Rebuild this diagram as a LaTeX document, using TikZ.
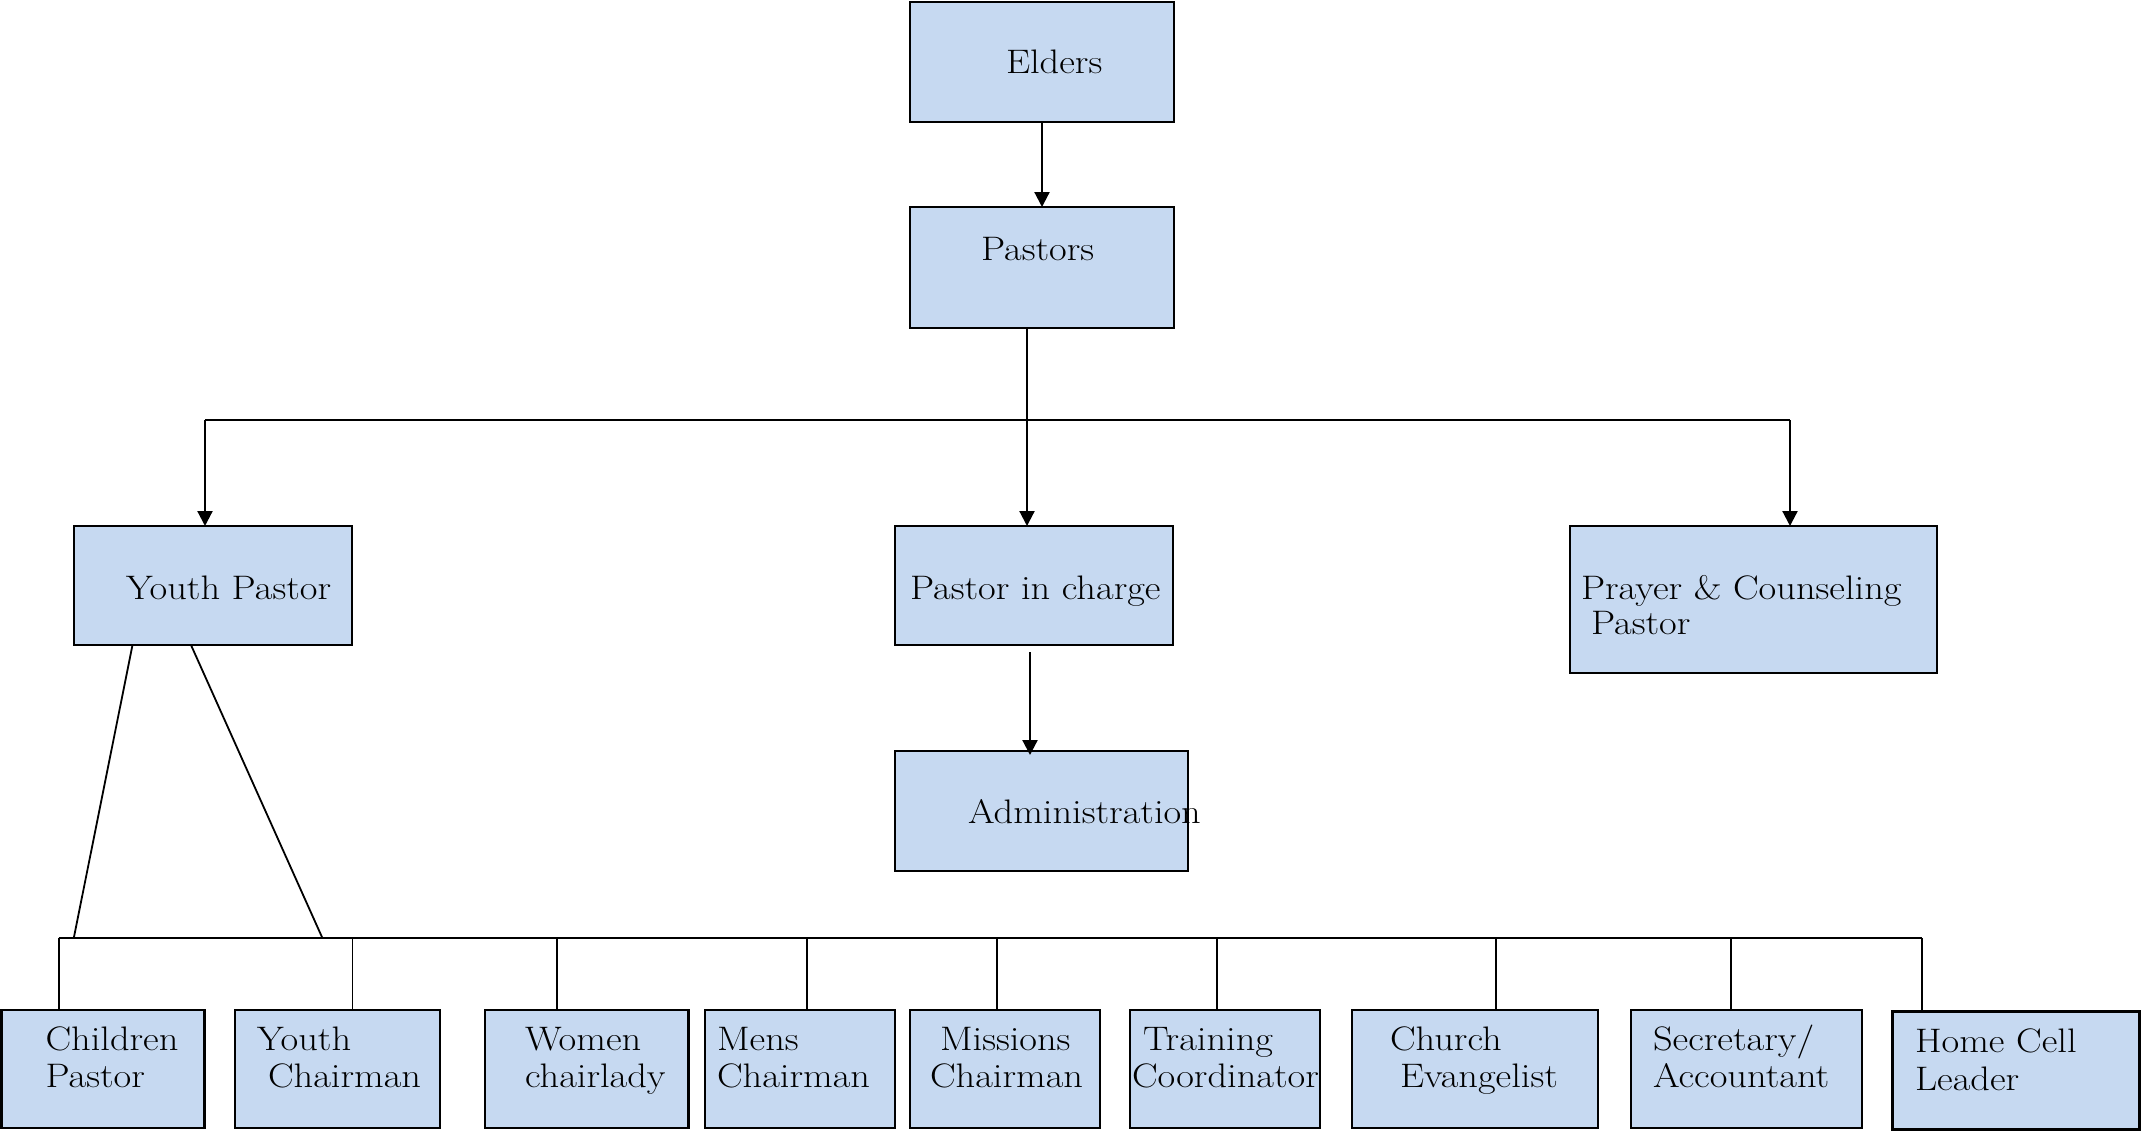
\documentclass[tikz,border=0pt]{standalone}
\usepackage{fontspec}
\setmainfont{Latin Modern Roman}
\usetikzlibrary{arrows.meta}
\definecolor{boxfill}{HTML}{C6D9F1}
\newcommand{\widetxt}[1]{\scalebox{1.13}[1]{#1}}
\tikzset{
  box/.style={draw=black, fill=boxfill, line width=2.2pt, inner sep=0pt, outer sep=0pt},
  lbl/.style={anchor=base west, inner sep=0pt, outer sep=0pt, font=\fontsize{34}{40}\selectfont},
  conn/.style={draw=black, line width=1.8pt},
  arr/.style={draw=black, line width=2.2pt, -{Triangle[length=15pt,width=15pt]}}
}
\begin{document}
\begin{tikzpicture}[x=1pt,y=-1pt]
\useasboundingbox (0,0) rectangle (2142,1130);
% boxes
\node[box, minimum width=264pt, minimum height=120pt] (elders) at (1042,62) {};
\node[box, minimum width=264pt, minimum height=121pt] (pastors) at (1042,267.5) {};
\node[box, minimum width=278pt, minimum height=119pt] (yp) at (213,585.5) {};
\node[box, minimum width=278pt, minimum height=119pt] (pic) at (1034,585.5) {};
\node[box, minimum width=367pt, minimum height=147pt] (prayer) at (1753.5,599.5) {};
\node[box, minimum width=293pt, minimum height=120pt] (admin) at (1041.5,811) {};
\node[box, minimum width=203pt, minimum height=118pt] (cp) at (103,1069) {};
\node[box, minimum width=205pt, minimum height=118pt] (yc) at (337.5,1069) {};
\node[box, minimum width=203.5pt, minimum height=118pt] (wc) at (586.75,1069) {};
\node[box, minimum width=190pt, minimum height=118pt] (mc) at (800,1069) {};
\node[box, minimum width=190pt, minimum height=118pt] (msc) at (1004.8,1069) {};
\node[box, minimum width=190pt, minimum height=118pt] (tc) at (1224.8,1069) {};
\node[box, minimum width=246pt, minimum height=118pt] (ce) at (1475.3,1069) {};
\node[box, minimum width=231pt, minimum height=118pt] (sa) at (1746.5,1069) {};
\node[box, minimum width=247pt, minimum height=118pt] (hc) at (2016,1070.5) {};
% labels
\node[lbl] (t-elders) at (1006,73) {\widetxt{Elders}};
\node[lbl] (t-pastors) at (981,260) {\widetxt{Pastors}};
\node[lbl] (t-yp) at (126,599) {\widetxt{Youth Pastor}};
\node[lbl] (t-pic) at (910,599) {\widetxt{Pastor in charge}};
\node[lbl] (t-pr1) at (1581,599) {\widetxt{Prayer \& Counseling}};
\node[lbl] (t-pr2) at (1591,634) {\widetxt{Pastor}};
\node[lbl] (t-admin) at (968,823) {\widetxt{Administration}};
\node[lbl] (t-cp1) at (45.5,1050) {\widetxt{Children}};
\node[lbl] (t-cp2) at (45.5,1087) {\widetxt{Pastor}};
\node[lbl] (t-yc1) at (257,1050) {\widetxt{Youth}};
\node[lbl] (t-yc2) at (268,1087) {\widetxt{Chairman}};
\node[lbl] (t-wc1) at (525,1050) {\widetxt{Women}};
\node[lbl] (t-wc2) at (525,1087) {\widetxt{chairlady}};
\node[lbl] (t-mc1) at (717,1050) {\widetxt{Mens}};
\node[lbl] (t-mc2) at (717,1087) {\widetxt{Chairman}};
\node[lbl] (t-msc1) at (940,1050) {\widetxt{Missions}};
\node[lbl] (t-msc2) at (930,1087) {\widetxt{Chairman}};
\node[lbl] (t-tc1) at (1143,1050) {\widetxt{Training}};
\node[lbl] (t-tc2) at (1132,1087) {\widetxt{Coordinator}};
\node[lbl] (t-ce1) at (1390,1050) {\widetxt{Church}};
\node[lbl] (t-ce2) at (1400,1087) {\widetxt{Evangelist}};
\node[lbl] (t-sa1) at (1653,1050) {\widetxt{Secretary/}};
\node[lbl] (t-sa2) at (1653,1087) {\widetxt{Accountant}};
\node[lbl] (t-hc1) at (1915,1052) {\widetxt{Home Cell}};
\node[lbl] (t-hc2) at (1915,1090) {\widetxt{Leader}};
% upper connectors
\coordinate (j1) at (1027,420);
\coordinate (bl) at (205,420);
\coordinate (br) at (1790,420);
\coordinate (ja) at (1030,652);
\draw[arr] (elders) -- (pastors);
\draw[conn] (bl) -- (br);
\draw[arr] (pastors.south -| j1) -- (pic.north -| j1);
\draw[arr] (bl) -- (yp.north -| bl);
\draw[arr] (br) -- (prayer.north -| br);
\draw[arr] (ja) -- ([yshift=-4pt]admin.north -| ja);
% lower connectors
\coordinate (ba) at (58.7,938);
\coordinate (bz) at (1922,938);
\coordinate (ta) at (73.8,938);
\coordinate (tb) at (322.4,938);
\draw[conn] (ba) -- (bz);
\draw[conn] ([xshift=-80.5pt]yp.south) -- (ta);
\draw[conn] ([xshift=-22pt]yp.south) -- (tb);
\coordinate (d1) at (58.7,938);
\coordinate (d2) at (352.4,938);
\coordinate (d3) at (557.3,938);
\coordinate (d4) at (807.3,938);
\coordinate (d5) at (997.2,938);
\coordinate (d6) at (1217.2,938);
\coordinate (d7) at (1495.8,938);
\coordinate (d8) at (1730.8,938);
\coordinate (d9) at (1922,938);
\draw[conn] (d1) -- (cp.north -| d1);
\draw[conn] (d2) -- (yc.north -| d2);
\draw[conn] (d3) -- (wc.north -| d3);
\draw[conn] (d4) -- (mc.north -| d4);
\draw[conn] (d5) -- (msc.north -| d5);
\draw[conn] (d6) -- (tc.north -| d6);
\draw[conn] (d7) -- (ce.north -| d7);
\draw[conn] (d8) -- (sa.north -| d8);
\draw[conn] (d9) -- (hc.north -| d9);
\end{tikzpicture}
\end{document}
